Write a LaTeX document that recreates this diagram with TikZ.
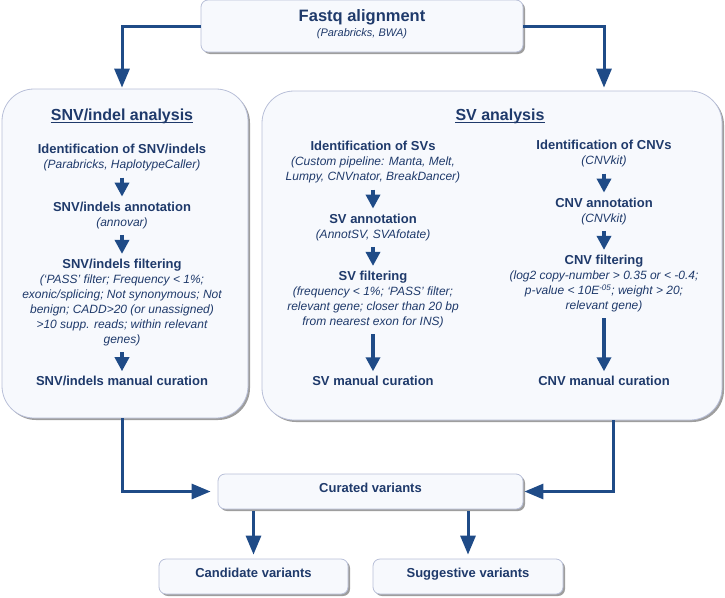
\documentclass[tikz,border=0pt]{standalone}
\usepackage{fontspec}
\setmainfont{Liberation Sans}
\usetikzlibrary{positioning,arrows.meta,shadows}
\definecolor{navy}{HTML}{1F3A6B}
\definecolor{arrblue}{HTML}{1F4B87}
\definecolor{boxfill}{HTML}{F7F9FD}
\definecolor{boxline}{HTML}{B8BFD8}
\newcommand{\stephead}[1]{{\fontsize{13}{15}\selectfont\bfseries\upshape #1}}

\begin{document}
\begin{tikzpicture}[
  x=1pt, y=-1pt,
  panel/.style={draw=boxline, fill=boxfill, line width=0.8pt,
                rounded corners=32pt,
                drop shadow={shadow xshift=2pt, shadow yshift=-2pt,
                             fill=black!38, opacity=1}},
  smallbox/.style={draw=boxline, fill=boxfill, line width=0.8pt,
                   rounded corners=7pt, minimum height=35pt,
                   text height=9.5pt, text depth=8pt, inner xsep=0pt,
                   text=navy, font=\fontsize{13}{15}\selectfont\bfseries,
                   drop shadow={shadow xshift=2pt, shadow yshift=-2pt,
                                fill=black!38, opacity=1}},
  stepbox/.style={inner sep=0pt, align=center, text=navy,
                  font=\fontsize{12}{15}\selectfont\itshape},
  secthead/.style={inner sep=0pt, anchor=base, text=navy,
                   font=\fontsize{16}{18}\selectfont\bfseries},
  uline/.style={navy, line width=1.2pt},
  conn/.style={arrblue, line width=3pt, shorten >=1pt,
               -{Triangle[length=19pt,width=15pt]}},
  steparr/.style={arrblue, line width=3.4pt, shorten <=6pt, shorten >=5pt,
                  -{Triangle[length=14pt,width=14pt]}},
]
\useasboundingbox (0,0) rectangle (725,597);

% containers
\node[smallbox, minimum width=322pt, minimum height=52pt] (fastq) at (362,26) {};
\node[panel, minimum width=246pt, minimum height=329pt] (snvbox) at (125,253.5) {};
\node[panel, minimum width=460pt, minimum height=329pt] (svbox) at (492,255.5) {};

\node[anchor=base, inner sep=0pt, text=navy,
  font=\fontsize{16.5}{18}\selectfont\bfseries] (fastqttl) at (362,21.5)
  {Fastq alignment};
\node[anchor=base, inner sep=0pt, text=navy,
  font=\fontsize{11}{13}\selectfont\itshape] (fastqsub) at (362,36)
  {(Parabricks, BWA)};

\node[secthead] (snvhead) at (122,120.5) {SNV/indel analysis};
\node[secthead] (svhead) at (500,120.5) {SV analysis};
\draw[uline] ([yshift=-1.6pt]snvhead.base west) -- ([yshift=-1.6pt]snvhead.base east);
\draw[uline] ([yshift=-1.6pt]svhead.base west) -- ([yshift=-1.6pt]svhead.base east);

% SNV/indel column
\node[stepbox, anchor=north] (snvid) at (122,144.3)
  {\stephead{Identification of SNV/indels}\\(Parabricks, HaplotypeCaller)};
\node[stepbox, below=30pt of snvid] (snvann)
  {\stephead{SNV/indels annotation}\\(annovar)};
\node[stepbox, below=30pt of snvann] (snvfilt)
  {\stephead{SNV/indels filtering}\\(`PASS' filter; Frequency < 1\%;\\
   exonic/splicing; Not synonymous; Not\\benign; CADD>20 (or unassigned)\\
   >10 supp. reads; within relevant\\genes)};
\node[stepbox, below=30pt of snvfilt] (snvcur)
  {\stephead{SNV/indels manual curation}};

% SV column
\node[stepbox, anchor=north] (svid) at (373,141.3)
  {\stephead{Identification of SVs}\\(Custom pipeline: Manta, Melt,\\
   Lumpy, CNVnator, BreakDancer)};
\node[stepbox, below=30pt of svid] (svann)
  {\stephead{SV annotation}\\(AnnotSV, SVAfotate)};
\node[stepbox, below=30pt of svann] (svfilt)
  {\stephead{SV filtering}\\(frequency < 1\%; `PASS' filter;\\
   relevant gene; closer than 20 bp\\from nearest exon for INS)};
\node[stepbox] (svcur) at (svid |- snvcur)
  {\stephead{SV manual curation}};

% CNV column
\node[stepbox, anchor=north] (cnvid) at (604,140.3)
  {\stephead{Identification of CNVs}\\(CNVkit)};
\node[stepbox, below=30pt of cnvid] (cnvann)
  {\stephead{CNV annotation}\\(CNVkit)};
\node[stepbox, below=30pt of cnvann] (cnvfilt)
  {\stephead{CNV filtering}\\(log2 copy-number > 0.35 or < -0.4;\\
   p-value < 10E\textsuperscript{-05}; weight > 20;\\relevant gene)};
\node[stepbox] (cnvcur) at (cnvid |- snvcur)
  {\stephead{CNV manual curation}};

% results
\node[smallbox, minimum width=305pt] (curated) at (370.5,491.5) {Curated variants};
\node[smallbox, minimum width=189pt] (cand) at (253.5,576.5) {Candidate variants};
\node[smallbox, minimum width=190pt] (sugg) at (468,576.5) {Suggestive variants};

\draw[steparr] (snvid) -- (snvann);
\draw[steparr] (snvann) -- (snvfilt);
\draw[steparr] (snvfilt) -- (snvcur);
\draw[steparr] (svid) -- (svann);
\draw[steparr] (svann) -- (svfilt);
\draw[steparr] (svfilt) -- (svcur);
\draw[steparr] (cnvid) -- (cnvann);
\draw[steparr] (cnvann) -- (cnvfilt);
\draw[steparr] (cnvfilt) -- (cnvcur);

\draw[conn] (fastq.west) -| (snvid |- snvbox.north);
\draw[conn, shorten >=3pt] (fastq.east) -| (cnvid |- svbox.north);
\draw[conn, shorten >=7pt] (snvid |- snvbox.south) |- (curated.west);
\draw[conn] ([xshift=9pt]cnvid |- svbox.south) |- (curated.east);
\draw[conn, shorten <=2pt, shorten >=4pt] (cand |- curated.south) -- (cand.north);
\draw[conn, shorten <=2pt, shorten >=4pt] (sugg |- curated.south) -- (sugg.north);
\end{tikzpicture}
\end{document}
